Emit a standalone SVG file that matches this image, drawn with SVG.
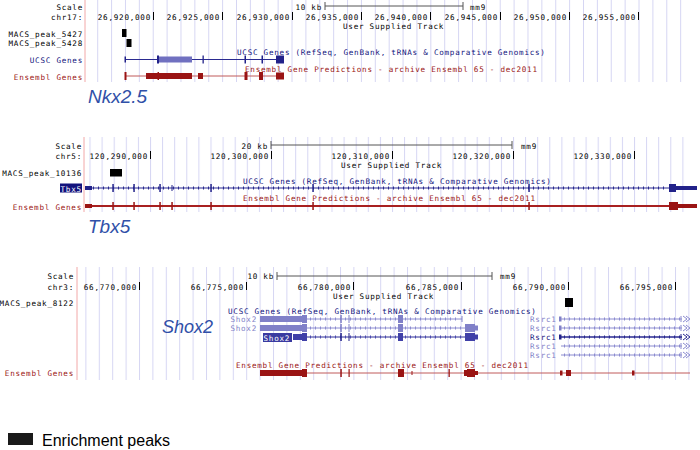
<svg xmlns="http://www.w3.org/2000/svg" width="700" height="450" viewBox="0 0 700 450">
<defs>
<pattern id="g1" x="97.2" y="0" width="13.88" height="10" patternUnits="userSpaceOnUse"><rect width="1" height="10" fill="#d6d6f3"/></pattern>
<pattern id="g2" x="89.5" y="0" width="12.1" height="10" patternUnits="userSpaceOnUse"><rect width="1" height="10" fill="#d6d6f3"/></pattern>
<pattern id="g3" x="85.4" y="0" width="13.4" height="10" patternUnits="userSpaceOnUse"><rect width="1" height="10" fill="#d6d6f3"/></pattern>
</defs>
<style>
.t{font-family:"DejaVu Sans Mono","Liberation Mono",monospace;font-size:7.6px;letter-spacing:0.75px;fill:#000}
.e{text-anchor:end}
.nv{fill:#12127c}
.rd{fill:#9a1414}
.lt{fill:#8282c8}
.wh{fill:#fff}
.big{font-family:"Liberation Sans",Arial,sans-serif;font-style:italic;font-size:19px;fill:#3050a8}
.sep{stroke:#f2a8a8;stroke-width:1}
.tick{stroke:#000;stroke-width:1;fill:none}
.bar{stroke:#555;stroke-width:1;fill:none}
.pk{fill:#000}
.lnv{stroke:#2a2a90;stroke-width:1;fill:none}
.llt{stroke:#8c8cd0;stroke-width:1;fill:none}
.lrd{stroke:#c05a5a;stroke-width:1;fill:none}
.lrd2{stroke:#a82020;stroke-width:2;fill:none}
.anv{stroke:#2a2a90;stroke-width:3;stroke-dasharray:1 4;fill:none}
.alt{stroke:#8c8cd0;stroke-width:3;stroke-dasharray:1 4;fill:none}
.fnv{fill:#22228a}
.fdk{fill:#4040a8}
.flt{fill:#8080c8}
.fmid{fill:#7070c0}
.frd{fill:#9a1414}
.leg{font-family:"Liberation Sans",Arial,sans-serif;font-size:16px;fill:#000}
</style>
<rect width="700" height="450" fill="#fff"/>

<!-- Panel 1: Nkx2.5 -->
<g id="panel-nkx25">
<rect x="90" y="0" width="604" height="82" fill="url(#g1)"/>
<line class="sep" x1="85" y1="0" x2="85" y2="82"/>
<text class="t e" x="83" y="10">Scale</text>
<text class="t e" x="83" y="19.5">chr17:</text>
<text class="t e" x="322" y="10">10 kb</text>
<path class="bar" d="M325 2V10M325 6H463M463 2V10"/>
<text class="t" x="470" y="10">mm9</text>
<g id="p1-pos">
<text class="t e" x="151" y="19.5">26,920,000</text>
<text class="t e" x="220" y="19.5">26,925,000</text>
<text class="t e" x="290" y="19.5">26,930,000</text>
<text class="t e" x="359" y="19.5">26,935,000</text>
<text class="t e" x="428" y="19.5">26,940,000</text>
<text class="t e" x="498" y="19.5">26,945,000</text>
<text class="t e" x="567" y="19.5">26,950,000</text>
<text class="t e" x="636" y="19.5">26,955,000</text>
<path class="tick" d="M153.5 12V20M222.5 12V20M292.5 12V20M361.5 12V20M430.5 12V20M500.5 12V20M569.5 12V20M638.5 12V20"/>
</g>
<text class="t" x="343" y="28.5">User Supplied Track</text>
<text class="t e" x="83" y="36.5">MACS_peak_5427</text>
<text class="t e" x="83" y="45.5">MACS_peak_5428</text>
<rect class="pk" x="122" y="29" width="4.5" height="8"/>
<rect class="pk" x="126.5" y="39" width="5" height="8"/>
<text class="t nv" x="237" y="54.5">UCSC Genes (RefSeq, GenBank, tRNAs &amp; Comparative Genomics)</text>
<text class="t e nv" x="83" y="62.5">UCSC Genes</text>
<g id="p1-ucsc">
<path class="lnv" d="M125 59.5H284"/>
<rect class="fnv" x="124.5" y="56.5" width="1.5" height="6"/>
<rect class="fmid" x="158" y="56.5" width="34" height="6"/>
<rect class="fnv" x="157" y="55.5" width="2" height="8"/>
<rect class="fnv" x="202.5" y="55.5" width="1.3" height="8"/>
<rect class="fnv" x="244.5" y="55.5" width="1.5" height="8"/>
<rect class="fnv" x="261.5" y="55.5" width="1.5" height="8"/>
<rect class="fnv" x="276" y="55.5" width="8" height="8"/>
</g>
<text class="t rd" x="245" y="71.5">Ensembl Gene Predictions - archive Ensembl 65 - dec2011</text>
<text class="t e rd" x="83" y="79.5">Ensembl Genes</text>
<g id="p1-ensembl">
<path class="lrd" d="M125 76H284"/>
<rect class="frd" x="124.5" y="72" width="2" height="8"/>
<rect class="frd" x="146" y="73" width="46" height="6"/>
<rect class="frd" x="157.5" y="72" width="1.5" height="8"/>
<rect class="frd" x="198" y="73" width="5" height="6"/>
<rect class="frd" x="244.5" y="72" width="3" height="8"/>
<rect class="frd" x="259" y="72" width="4" height="8"/>
<rect class="frd" x="276" y="72.5" width="8" height="7"/>
</g>
<text class="big" x="88" y="103">Nkx2.5</text>
</g>

<!-- Panel 2: Tbx5 -->
<g id="panel-tbx5">
<rect x="88" y="137" width="606" height="75" fill="url(#g2)"/>
<line class="sep" x1="84" y1="137" x2="84" y2="212"/>
<text class="t e" x="82" y="149">Scale</text>
<text class="t e" x="82" y="159">chr5:</text>
<text class="t e" x="268" y="149">20 kb</text>
<path class="bar" d="M271 141V149M271 145H512M512 141V149"/>
<text class="t" x="521" y="149">mm9</text>
<g id="p2-pos">
<text class="t e" x="148" y="159">120,290,000</text>
<text class="t e" x="269" y="159">120,300,000</text>
<text class="t e" x="390" y="159">120,310,000</text>
<text class="t e" x="511" y="159">120,320,000</text>
<text class="t e" x="632" y="159">120,330,000</text>
<path class="tick" d="M150.5 151V159M271.5 151V159M392.5 151V159M513.5 151V159M634.5 151V159"/>
</g>
<text class="t" x="341" y="168">User Supplied Track</text>
<text class="t e" x="82" y="175.5">MACS_peak_10136</text>
<rect class="pk" x="110" y="169" width="12" height="7.5"/>
<text class="t nv" x="243" y="183.5">UCSC Genes (RefSeq, GenBank, tRNAs &amp; Comparative Genomics)</text>
<rect x="60" y="183.5" width="22" height="9" fill="#12127c"/>
<text class="t wh" x="60.5" y="191.5">Tbx5</text>
<g id="p2-ucsc">
<path class="lnv" d="M85 188H697"/>
<path class="anv" d="M93 188H668"/>
<rect class="fnv" x="85" y="186" width="7" height="4"/>
<rect class="fnv" x="112.3" y="184" width="1.5" height="8"/>
<rect class="fnv" x="133.3" y="184" width="1.5" height="8"/>
<rect class="fnv" x="159.3" y="184" width="1.5" height="8"/>
<rect class="fnv" x="171.5" y="185" width="1" height="6"/>
<rect class="fnv" x="210.3" y="184" width="1.5" height="8"/>
<rect class="fnv" x="312.3" y="184" width="1.5" height="8"/>
<rect class="fnv" x="528.3" y="184" width="1.5" height="8"/>
<rect class="fnv" x="669" y="184" width="7" height="8"/>
<rect class="fnv" x="676" y="186" width="21" height="4"/>
</g>
<text class="t rd" x="243" y="201">Ensembl Gene Predictions - archive Ensembl 65 - dec2011</text>
<text class="t e rd" x="82" y="209.5">Ensembl Genes</text>
<g id="p2-ensembl">
<path class="lrd2" d="M85 206H697"/>
<rect class="frd" x="85" y="204" width="7" height="4"/>
<rect class="frd" x="112.3" y="202" width="1.5" height="8"/>
<rect class="frd" x="133.3" y="202" width="1.5" height="8"/>
<rect class="frd" x="159.3" y="202" width="1.5" height="8"/>
<rect class="frd" x="171.3" y="202" width="1.5" height="8"/>
<rect class="frd" x="210.3" y="202" width="1.5" height="8"/>
<rect class="frd" x="312.3" y="202" width="1.5" height="8"/>
<rect class="frd" x="528.3" y="202" width="1.5" height="8"/>
<rect class="frd" x="669" y="202" width="9" height="8"/>
<rect class="frd" x="678" y="204" width="19" height="4"/>
</g>
<text class="big" x="88" y="233">Tbx5</text>
</g>

<!-- Panel 3: Shox2 -->
<g id="panel-shox2">
<rect x="80" y="267" width="614" height="113" fill="url(#g3)"/>
<line class="sep" x1="77" y1="267" x2="77" y2="380"/>
<text class="t e" x="74" y="279">Scale</text>
<text class="t e" x="74" y="289.5">chr3:</text>
<text class="t e" x="274" y="279">10 kb</text>
<path class="bar" d="M277 272V280M277 276H492M492 272V280"/>
<text class="t" x="500" y="279">mm9</text>
<g id="p3-pos">
<text class="t e" x="137" y="289.5">66,770,000</text>
<text class="t e" x="244" y="289.5">66,775,000</text>
<text class="t e" x="351" y="289.5">66,780,000</text>
<text class="t e" x="459" y="289.5">66,785,000</text>
<text class="t e" x="566" y="289.5">66,790,000</text>
<text class="t e" x="673" y="289.5">66,795,000</text>
<path class="tick" d="M139.5 282V290M246.5 282V290M353.5 282V290M461.5 282V290M568.5 282V290M675.5 282V290"/>
</g>
<text class="t" x="333" y="298.5">User Supplied Track</text>
<text class="t e" x="74" y="305.5">MACS_peak_8122</text>
<rect class="pk" x="565" y="298" width="8" height="9"/>
<text class="t nv" x="228" y="314">UCSC Genes (RefSeq, GenBank, tRNAs &amp; Comparative Genomics)</text>
<text class="big" x="162" y="333" style="font-size:18px">Shox2</text>
<g id="p3-shox2-1">
<text class="t e lt" x="257" y="321.5">Shox2</text>
<path class="llt" d="M307 319H462"/>
<path class="alt" d="M310 319H460"/>
<rect class="flt" x="260" y="316" width="42" height="6"/>
<rect class="flt" x="302" y="315" width="5" height="8"/>
<rect class="flt" x="340.3" y="315" width="1.5" height="8"/>
<rect class="flt" x="348.5" y="315" width="1" height="8"/>
<rect class="flt" x="398" y="315" width="5" height="8"/>
<rect class="flt" x="461.5" y="316" width="1" height="6"/>
</g>
<g id="p3-shox2-2">
<text class="t e lt" x="257" y="330.5">Shox2</text>
<path class="llt" d="M307 328H465"/>
<path class="alt" d="M310 328H463"/>
<rect class="flt" x="260" y="325" width="42" height="6"/>
<rect class="flt" x="302" y="324" width="5" height="8"/>
<rect class="flt" x="340.3" y="324" width="1.5" height="8"/>
<rect class="flt" x="348.5" y="324" width="1" height="8"/>
<rect class="flt" x="398" y="324" width="5" height="8"/>
<rect class="flt" x="465" y="324" width="10" height="8"/>
<rect class="flt" x="475" y="325.5" width="3" height="5"/>
</g>
<g id="p3-shox2-3">
<rect x="263" y="333" width="29" height="9" fill="#3a3aa0"/>
<text class="t wh" x="263.5" y="340.5">Shox2</text>
<path class="lnv" d="M307 337H465"/>
<path class="anv" d="M310 337H463" style="stroke:#4a4ab0"/>
<rect class="fdk" x="293" y="334" width="9" height="6"/>
<rect class="fdk" x="302" y="333" width="5" height="8"/>
<rect class="fnv" x="340.3" y="333" width="1.5" height="8"/>
<rect class="fnv" x="348.5" y="333" width="1" height="8"/>
<rect class="fdk" x="398" y="333" width="5" height="8"/>
<rect class="fdk" x="465" y="333" width="10" height="8"/>
<rect class="fdk" x="475" y="334.5" width="3" height="5"/>
</g>
<g id="p3-rsrc1-1">
<text class="t lt" x="530" y="321.5">Rsrc1</text>
<rect class="flt" x="559" y="316.5" width="2.5" height="5"/>
<path class="llt" d="M561 319H682"/>
<path class="alt" d="M564 319H680"/>
<path class="llt" d="M681 316V322M683 316L687 319L683 322M686 316L690 319L686 322"/>
</g>
<g id="p3-rsrc1-2">
<text class="t lt" x="530" y="330.5">Rsrc1</text>
<rect class="flt" x="559" y="325.5" width="2.5" height="5"/>
<path class="llt" d="M561 328H682"/>
<path class="alt" d="M564 328H680"/>
<path class="llt" d="M681 325V331M683 325L687 328L683 331M686 325L690 328L686 331"/>
</g>
<g id="p3-rsrc1-3">
<text class="t nv" x="530" y="339.5">Rsrc1</text>
<rect class="fnv" x="559" y="334.5" width="2.5" height="5"/>
<path class="lnv" d="M561 337H682" style="stroke-width:1.5"/>
<path class="anv" d="M564 337H680"/>
<path class="lnv" d="M681 334V340M683 334L687 337L683 340M686 334L690 337L686 340"/>
</g>
<g id="p3-rsrc1-4">
<text class="t lt" x="530" y="348.5">Rsrc1</text>
<path class="llt" d="M561 346H682"/>
<path class="alt" d="M564 346H680"/>
<path class="llt" d="M681 343V349M683 343L687 346L683 349M686 343L690 346L686 349"/>
</g>
<g id="p3-rsrc1-5">
<text class="t lt" x="530" y="357.5">Rsrc1</text>
<path class="llt" d="M561 355H682"/>
<path class="alt" d="M564 355H680"/>
<path class="llt" d="M681 352V358M683 352L687 355L683 358M686 352L690 355L686 358"/>
</g>
<text class="t rd" x="236" y="367.5">Ensembl Gene Predictions - archive Ensembl 65 - dec2011</text>
<text class="t e rd" x="74" y="375.5">Ensembl Genes</text>
<g id="p3-ensembl">
<path class="lrd" d="M260 373H690"/>
<rect class="frd" x="260" y="370" width="42" height="6"/>
<rect class="frd" x="302" y="369" width="5" height="8"/>
<rect class="frd" x="340.3" y="369" width="1.5" height="8"/>
<rect class="frd" x="348.5" y="369" width="1.2" height="8"/>
<rect class="frd" x="398" y="369" width="6" height="8"/>
<rect class="frd" x="411.5" y="371" width="1" height="4"/>
<rect class="frd" x="448.5" y="369" width="1.3" height="8"/>
<rect class="frd" x="464" y="370" width="3" height="6"/>
<rect class="frd" x="467" y="369" width="8" height="8"/>
<rect class="frd" x="475" y="371" width="3" height="4"/>
<rect class="frd" x="560" y="370.5" width="2.5" height="5"/>
<rect class="frd" x="566" y="370" width="5" height="6"/>
<rect class="frd" x="632" y="370.5" width="2.5" height="5"/>
</g>
</g>

<!-- Legend -->
<g id="legend">
<rect x="8" y="433" width="25" height="12" fill="#1a1a1a"/>
<text class="leg" x="42" y="445.5">Enrichment peaks</text>
</g>
</svg>
